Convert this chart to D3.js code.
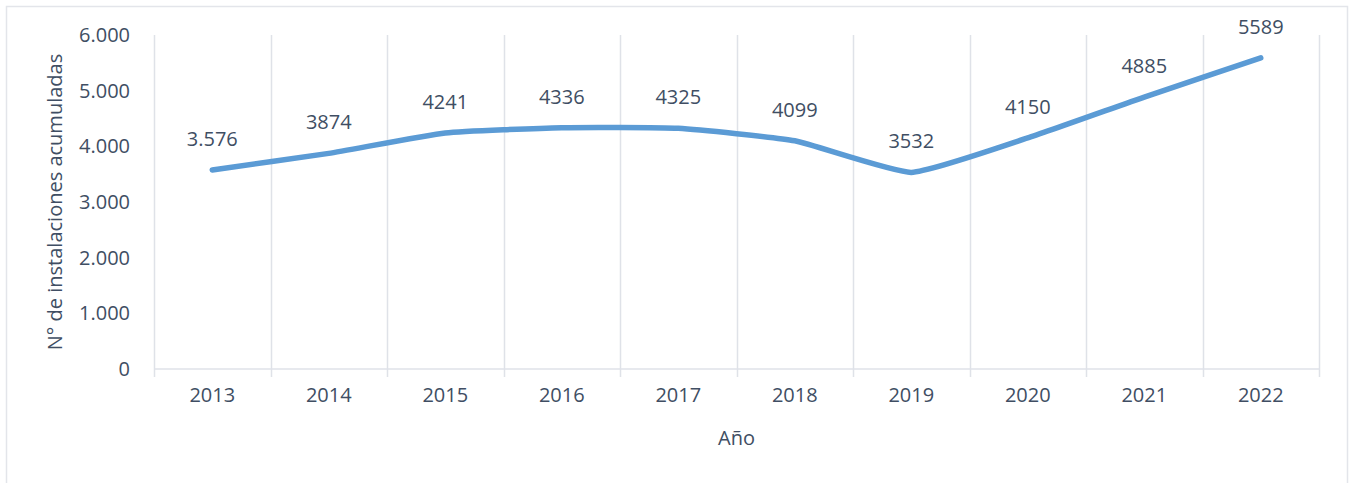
<!DOCTYPE html>
<html>
<head>
<meta charset="utf-8">
<script src="https://cdn.jsdelivr.net/npm/d3@7"></script>
<style>
  body { margin: 0; background: #fff; }
  svg { display: block; font-family: "Open Sans", sans-serif; }
</style>
</head>
<body>
<svg width="1349" height="483"></svg>
<script>
const years = ["2013", "2014", "2015", "2016", "2017", "2018", "2019", "2020", "2021", "2022"];
const installs = [3576, 3874, 4241, 4336, 4325, 4099, 3532, 4150, 4885, 5589];
const labels = ["3.576", "3874", "4241", "4336", "4325", "4099", "3532", "4150", "4885", "5589"];
const yTicks = [0, 1000, 2000, 3000, 4000, 5000, 6000];

const textColor = "#404e63";
const gridColor = "#dfe2e8";

const margin = { top: 35, right: 30, bottom: 114, left: 154 };
const width = 1349;
const height = 483;

const svg = d3.select("svg");

// outer frame
svg.append("rect")
  .attr("x", 6.5).attr("y", 6.5)
  .attr("width", width - 8).attr("height", height)
  .attr("fill", "none")
  .attr("stroke", "#e3e5ea")
  .attr("stroke-width", 1.5);

const x = d3.scaleBand()
  .domain(years)
  .range([margin.left, width - margin.right]);

const y = d3.scaleLinear()
  .domain([0, 6000])
  .range([height - margin.bottom, margin.top]);

const fmt = d3.formatLocale({ decimal: ",", thousands: ".", grouping: [3], currency: ["", "€"] }).format(",d");

// vertical gridlines at category boundaries (plus tick marks below baseline)
const bounds = years.map(d => x(d)).concat([x.range()[1]]);
svg.append("g")
  .selectAll("line")
  .data(bounds)
  .join("line")
  .attr("x1", d => Math.round(d) + 0.5)
  .attr("x2", d => Math.round(d) + 0.5)
  .attr("y1", y(6000))
  .attr("y2", y(0) + 8)
  .attr("stroke", gridColor)
  .attr("stroke-width", 1.5);

// baseline
svg.append("line")
  .attr("x1", x.range()[0]).attr("x2", x.range()[1])
  .attr("y1", y(0)).attr("y2", y(0))
  .attr("stroke", gridColor)
  .attr("stroke-width", 1.5);

// y axis labels
const yAxis = svg.append("g")
  .attr("transform", `translate(${margin.left - 24},0)`)
  .call(d3.axisLeft(y).tickValues(yTicks).tickFormat(fmt).tickSize(0).tickPadding(0));
yAxis.select(".domain").remove();
yAxis.selectAll("text")
  .attr("fill", textColor)
  .attr("font-size", 20)
  .attr("font-family", "Open Sans, sans-serif");

// x axis labels
const xAxis = svg.append("g")
  .attr("transform", `translate(0,${y(0)})`)
  .call(d3.axisBottom(x).tickSize(0).tickPadding(19));
xAxis.select(".domain").remove();
xAxis.selectAll("text")
  .attr("fill", textColor)
  .attr("font-size", 20)
  .attr("font-family", "Open Sans, sans-serif");

// line (mild smoothing like Excel)
const line = d3.line()
  .x((d, i) => x(years[i]) + x.bandwidth() / 2)
  .y(d => y(d))
  .curve(d3.curveCardinal.tension(0.55));

svg.append("path")
  .datum(installs)
  .attr("d", line)
  .attr("fill", "none")
  .attr("stroke", "#5b9bd5")
  .attr("stroke-width", 5.5)
  .attr("stroke-linecap", "round")
  .attr("stroke-linejoin", "round");

// data labels
svg.append("g")
  .selectAll("text")
  .data(installs)
  .join("text")
  .attr("x", (d, i) => x(years[i]) + x.bandwidth() / 2)
  .attr("y", d => y(d) - 24)
  .attr("text-anchor", "middle")
  .attr("fill", textColor)
  .attr("font-size", 20)
  .text((d, i) => labels[i]);

// axis titles
svg.append("text")
  .attr("x", (x.range()[0] + x.range()[1]) / 2)
  .attr("y", 445)
  .attr("text-anchor", "middle")
  .attr("fill", textColor)
  .attr("font-size", 20)
  .text("Año");

svg.append("text")
  .attr("transform", `translate(62,${(y(0) + y(6000)) / 2}) rotate(-90)`)
  .attr("text-anchor", "middle")
  .attr("fill", textColor)
  .attr("font-size", 20)
  .text("N° de instalaciones acumuladas");
</script>
</body>
</html>
